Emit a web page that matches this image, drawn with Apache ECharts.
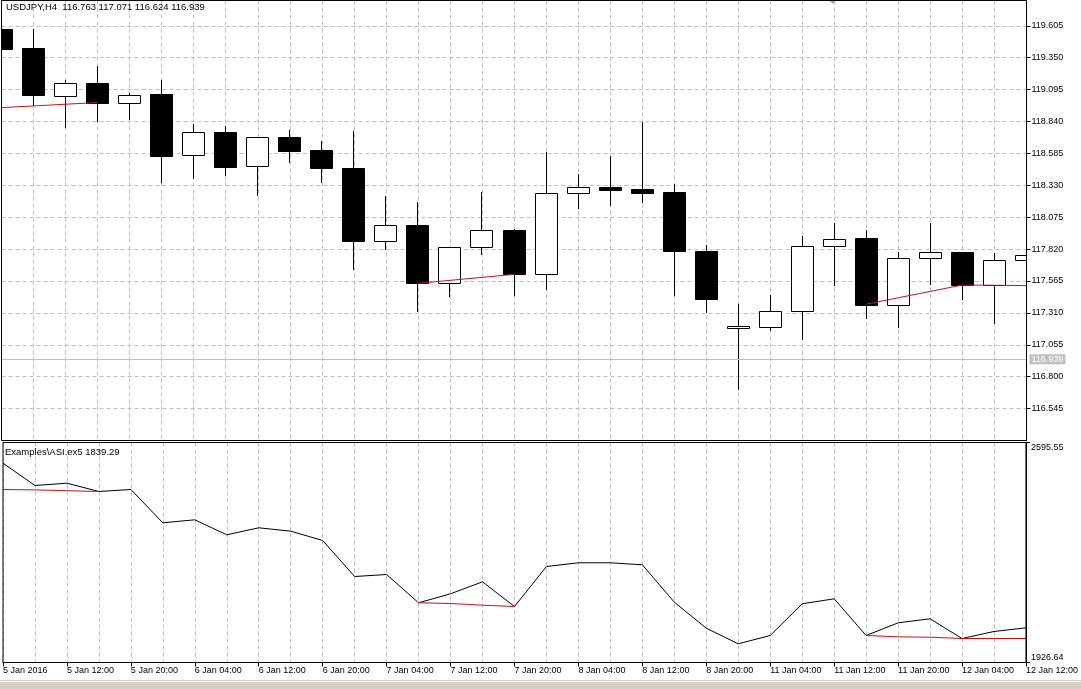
<!DOCTYPE html>
<html>
<head>
<meta charset="utf-8">
<title>USDJPY H4 - ASI</title>
<script src="https://cdn.jsdelivr.net/npm/echarts@6/dist/echarts.min.js"></script>
<style>
    html, body { margin: 0; padding: 0; background: #fff; }
    #chart { width: 1081px; height: 689px; }
</style>
</head>
<body>
<div id="chart"></div>
<script>
// one H4 bar per entry
var times = [
    '5 Jan 04:00', '5 Jan 08:00', '5 Jan 12:00', '5 Jan 16:00', '5 Jan 20:00',
    '6 Jan 00:00', '6 Jan 04:00', '6 Jan 08:00', '6 Jan 12:00', '6 Jan 16:00', '6 Jan 20:00',
    '7 Jan 00:00', '7 Jan 04:00', '7 Jan 08:00', '7 Jan 12:00', '7 Jan 16:00', '7 Jan 20:00',
    '8 Jan 00:00', '8 Jan 04:00', '8 Jan 08:00', '8 Jan 12:00', '8 Jan 16:00', '8 Jan 20:00',
    '11 Jan 00:00', '11 Jan 04:00', '11 Jan 08:00', '11 Jan 12:00', '11 Jan 16:00', '11 Jan 20:00',
    '12 Jan 00:00', '12 Jan 04:00', '12 Jan 08:00', '12 Jan 12:00'
];
// time scale labels, one every two bars
var timeLabels = [
    '5 Jan 2016', '5 Jan 12:00', '5 Jan 20:00', '6 Jan 04:00', '6 Jan 12:00', '6 Jan 20:00',
    '7 Jan 04:00', '7 Jan 12:00', '7 Jan 20:00', '8 Jan 04:00', '8 Jan 12:00', '8 Jan 20:00',
    '11 Jan 04:00', '11 Jan 12:00', '11 Jan 20:00', '12 Jan 04:00', '12 Jan 12:00'
];

var open  = [119.583, 119.424, 119.047, 119.145, 118.991, 119.058, 118.569, 118.752, 118.481, 118.715, 118.611,
             118.468, 117.881, 118.014, 117.546, 117.833, 117.974, 117.621, 118.267, 118.314, 118.301, 118.277,
             117.806, 117.187, 117.198, 117.326, 117.844, 117.910, 117.374, 117.745, 117.796, 117.530, 117.729];
var close = [119.419, 119.052, 119.145, 118.988, 119.055, 118.566, 118.752, 118.478, 118.713, 118.606, 118.470,
             117.881, 118.014, 117.546, 117.836, 117.972, 117.618, 118.267, 118.314, 118.295, 118.271, 117.801,
             117.418, 117.209, 117.328, 117.846, 117.900, 117.371, 117.748, 117.796, 117.533, 117.732, 117.772];
var low   = [119.412, 118.962, 118.789, 118.837, 118.850, 118.351, 118.380, 118.407, 118.247, 118.510, 118.351,
             117.655, 117.814, 117.318, 117.434, 117.769, 117.448, 117.490, 118.141, 118.163, 118.191, 117.448,
             117.310, 116.691, 117.163, 117.092, 117.528, 117.259, 117.187, 117.530, 117.410, 117.225, 117.655];
var high  = [119.590, 119.583, 119.169, 119.281, 119.071, 119.169, 118.816, 118.800, 118.716, 118.771, 118.683,
             118.763, 118.242, 118.197, 117.840, 118.277, 117.980, 118.595, 118.420, 118.564, 118.834, 118.340,
             117.854, 117.384, 117.450, 117.928, 118.032, 117.974, 117.793, 118.032, 117.800, 117.788, 117.984];

// red segments on the price pane
var priceLevel = [118.951, 118.964, 118.978, 118.991, null, null, null, null, null, null, null,
                  null, null, 117.546, 117.570, 117.594, 117.618, null, null, null, null, null,
                  null, null, null, null, null, 117.380, 117.431, 117.482, 117.533, 117.531, 117.528];

// Accumulation Swing Index
var asi = [2532.6, 2464.8, 2471.8, 2446.6, 2452.6, 2351.4, 2360.5, 2314.9, 2336.2, 2325.9, 2297.6,
           2188.1, 2194.2, 2108.2, 2135.5, 2172.0, 2096.9, 2218.5, 2229.8, 2229.8, 2223.7, 2110.0,
           2030.9, 1983.5, 2008.7, 2105.1, 2120.3, 2008.7, 2047.3, 2059.5, 1999.6, 2020.9, 2032.1];
var asiLevel = [2452.6, 2451.5, 2449.0, 2446.6, null, null, null, null, null, null, null,
                null, null, 2108.2, 2106.1, 2100.9, 2096.9, null, null, null, null, null,
                null, null, null, null, null, 2008.7, 2004.7, 2003.6, 1999.6, 1999.6, 1999.6];

var lastBar = [116.763, 117.071, 116.624, 116.939];
var bid = 116.939;
var asiLast = 1839.29;

var priceMin = 116.290, priceMax = 119.807, priceStep = 0.255;
var asiMin = 1926.64, asiMax = 2595.55;

var font = 'Liberation Sans';
var gridDash = { color: '#c0c0c0', type: [4, 3], width: 1 };

var candles = times.map(function (t, i) {
    return [i, open[i], close[i], low[i], high[i]];
});

// MetaTrader style bar: black body when falling, white body with black frame when rising
function renderCandle(params, api) {
    var i = api.value(0);
    var o = api.coord([i, api.value(1)]);
    var c = api.coord([i, api.value(2)]);
    var l = api.coord([i, api.value(3)]);
    var h = api.coord([i, api.value(4)]);
    var up = api.value(2) >= api.value(1);
    var cx = Math.floor(o[0]);
    var top = Math.round(Math.min(o[1], c[1]));
    var bottom = Math.round(Math.max(o[1], c[1]));
    var half = 11;
    return {
        type: 'group',
        children: [
            {
                type: 'line',
                shape: { x1: cx + 0.5, y1: Math.round(h[1]), x2: cx + 0.5, y2: Math.round(l[1]) },
                style: { stroke: '#000', lineWidth: 1 }
            },
            {
                type: 'rect',
                shape: { x: cx - half + 0.5, y: top + 0.5, width: half * 2, height: Math.max(bottom - top, 1) },
                style: { fill: up ? '#fff' : '#000', stroke: '#000', lineWidth: 1 }
            }
        ]
    };
}

var myChart = echarts.init(document.getElementById('chart'));
myChart.setOption({
    animation: false,
    backgroundColor: '#fff',
    textStyle: { fontFamily: font, fontSize: 9, color: '#000' },
    title: [
        {
            text: 'USDJPY,H4  ' + lastBar.map(function (v) { return v.toFixed(3); }).join(' '),
            left: 6, top: 2, padding: 0,
            textStyle: { fontFamily: font, fontSize: 9.5, fontWeight: 'normal', color: '#000' }
        },
        {
            text: 'Examples\\ASI.ex5 ' + asiLast.toFixed(2),
            left: 5, top: 447, padding: 0,
            textStyle: { fontFamily: font, fontSize: 9.5, fontWeight: 'normal', color: '#000' }
        }
    ],
    grid: [
        { left: 1.5, top: 0.5, width: 1025, height: 440, show: true, borderColor: '#000', borderWidth: 1, z: 10 },
        { left: 1.5, top: 442.5, width: 1025, height: 220, show: true, borderColor: '#000', borderWidth: 1, z: 10 }
    ],
    xAxis: [
        {
            gridIndex: 0, type: 'category', data: times, boundaryGap: false,
            axisLine: { show: false }, axisTick: { show: false }, axisLabel: { show: false },
            splitLine: { show: true, interval: 0, lineStyle: gridDash }
        },
        {
            gridIndex: 1, type: 'category', data: times, boundaryGap: false,
            axisLine: { show: true, lineStyle: { color: '#000', width: 1 } },
            axisTick: { show: true, interval: 1, length: 4, lineStyle: { color: '#000' } },
            axisLabel: {
                interval: 1, align: 'left', margin: 4, color: '#000', fontFamily: font, fontSize: 9,
                formatter: function (v, i) { return timeLabels[i / 2]; }
            },
            splitLine: { show: true, interval: 0, lineStyle: gridDash }
        }
    ],
    yAxis: [
        {
            gridIndex: 0, type: 'value', position: 'right', scale: true,
            min: priceMin, max: priceMax, interval: priceStep,
            axisLine: { show: true, lineStyle: { color: '#000' } },
            axisTick: { show: true, length: 4, lineStyle: { color: '#000' } },
            axisLabel: {
                showMinLabel: false, showMaxLabel: false, margin: 5,
                color: '#000', fontFamily: font, fontSize: 9,
                formatter: function (v) { return v.toFixed(3); }
            },
            splitLine: { show: true, lineStyle: gridDash }
        },
        {
            gridIndex: 1, type: 'value', position: 'right',
            min: asiMin, max: asiMax, interval: asiMax - asiMin,
            axisLine: { show: true, lineStyle: { color: '#000' } },
            axisTick: { show: true, length: 4, lineStyle: { color: '#000' } },
            axisLabel: {
                margin: 5, color: '#000', fontFamily: font, fontSize: 9,
                formatter: function (v) {
                    // top value sits below its tick, bottom value above it
                    return v > (asiMin + asiMax) / 2
                        ? '{t|' + asiMax.toFixed(2) + '}'
                        : '{b|' + asiMin.toFixed(2) + '}';
                },
                rich: {
                    t: { padding: [10, 0, 0, 0], fontFamily: font, fontSize: 9, color: '#000' },
                    b: { padding: [0, 0, 10, 0], fontFamily: font, fontSize: 9, color: '#000' }
                }
            },
            splitLine: { show: false }
        }
    ],
    series: [
        {
            name: 'USDJPY',
            type: 'custom',
            xAxisIndex: 0, yAxisIndex: 0,
            data: candles,
            encode: { x: 0, y: [1, 2, 3, 4] },
            renderItem: renderCandle,
            clip: true,
            z: 3
        },
        {
            name: 'level',
            type: 'line',
            xAxisIndex: 0, yAxisIndex: 0,
            data: priceLevel,
            symbol: 'none',
            connectNulls: false,
            lineStyle: { color: '#b81c1c', width: 1 },
            markLine: {
                silent: true,
                symbol: ['none', 'none'],
                lineStyle: { color: '#c0c0c0', type: 'solid', width: 1 },
                label: {
                    position: 'end', distance: 3,
                    formatter: bid.toFixed(3),
                    backgroundColor: '#c0c0c0', color: '#fff',
                    padding: [1, 2, 0, 2], fontFamily: font, fontSize: 9
                },
                data: [{ yAxis: bid }]
            },
            z: 4
        },
        {
            name: 'ASI',
            type: 'line',
            xAxisIndex: 1, yAxisIndex: 1,
            data: asi,
            symbol: 'none',
            lineStyle: { color: '#000', width: 1 },
            z: 3
        },
        {
            name: 'ASI level',
            type: 'line',
            xAxisIndex: 1, yAxisIndex: 1,
            data: asiLevel,
            symbol: 'none',
            connectNulls: false,
            lineStyle: { color: '#c0141e', width: 1 },
            z: 4
        }
    ],
    graphic: [
        // chart shift marker
        { type: 'polygon', shape: { points: [[829, 0], [837, 0], [833, 4]] }, style: { fill: '#a0a0a0' } },
        // window frame at the bottom
        { type: 'rect', shape: { x: 0, y: 680, width: 1081, height: 9 }, style: { fill: '#d4d0c8' } },
        { type: 'rect', shape: { x: 0, y: 681, width: 1081, height: 1 }, style: { fill: '#ffffff' } }
    ]
});
</script>
</body>
</html>
